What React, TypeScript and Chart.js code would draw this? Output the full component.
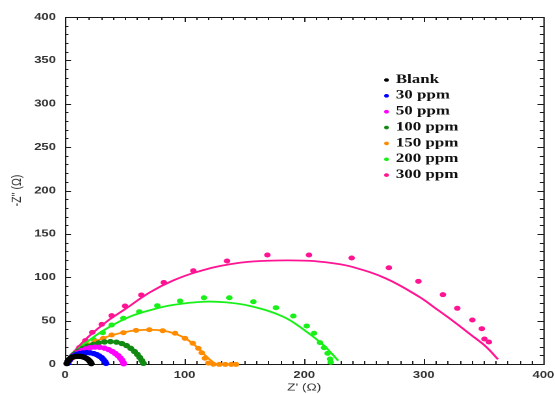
import React, { useEffect, useRef } from 'react';
import { Chart, registerables } from 'chart.js';

Chart.register(...registerables);

// ---------- data ----------
const seriesNames = ['Blank', '30 ppm', '50 ppm', '100 ppm', '150 ppm', '200 ppm', '300 ppm'];
const seriesColors = ['#000000', '#0000ff', '#ff00ff', '#118a11', '#ff8c00', '#19f019', '#ff1493'];

// measured points (Z', -Z'')
const blankX = [1.5, 2.3, 3.3, 4.6, 6.3, 8.2, 10.2, 12.2, 14.2, 16.1, 17.8, 19.3, 20.5, 21.4, 22];
const blankY = [0.5, 3, 5, 6.7, 7.9, 8.6, 8.9, 8.9, 8.5, 7.7, 6.6, 5.2, 3.6, 2, 0.4];
const ppm30X = [2.5, 3.5, 5, 7, 9.5, 12, 15, 18, 21, 24, 26.5, 28.5, 30.5, 32, 33.3, 34.3];
const ppm30Y = [1, 4, 6.8, 9, 10.8, 12, 12.8, 13.1, 12.9, 12, 10.8, 9.3, 7.4, 5.2, 3, 0.7];
const ppm50X = [2.5, 4, 6, 8.5, 11, 14, 17.5, 21, 25, 29, 33, 36.5, 39.5, 42, 44.3, 46.2, 47.6, 48.6, 49];
const ppm50Y = [1.5, 4.5, 7.5, 10.5, 13, 15.5, 17.5, 18.8, 19.5, 19.3, 18.3, 16.6, 14.5, 12.2, 9.7, 7, 4.5, 2, 0.3];
const ppm100X = [2.5, 4, 6, 8.5, 11.5, 15, 19, 23.5, 28, 33, 38, 43, 47.5, 51.5, 55, 58, 60.5, 62.5, 64.2, 65.5];
const ppm100Y = [2, 5.5, 9, 12, 15, 18, 20.5, 22.5, 24.2, 25.4, 25.8, 25.2, 23.6, 21.2, 18, 14.5, 11, 7.5, 4, 0.8];
const ppm150X = [3, 6, 10, 15, 20, 25.5, 32, 39, 48.8, 59.4, 70.5, 81.7, 92, 100.3, 106.8, 111.5, 114.3, 117, 119.8, 124, 129, 134, 139, 143];
const ppm150Y = [3, 7, 12, 17.5, 22, 26, 29.6, 33.4, 36, 38.8, 39.5, 38.4, 35.4, 29.6, 23.9, 18, 13, 6.6, 1, -0.3, -0.5, -0.5, -0.5, -0.5];
const ppm200X = [3, 7, 12, 17, 24, 31.5, 39, 48.8, 62.1, 77.2, 96.2, 116.2, 137.4, 157.5, 176.4, 190.9, 202.1, 208.2, 213.2, 216.6, 219.6, 221.6, 222.2];
const ppm200Y = [3, 9, 16, 22, 28, 36, 45, 52.7, 60.3, 67.2, 72.6, 76.4, 76.4, 71.8, 64.9, 55.3, 43.8, 35.4, 24.6, 18.8, 12.3, 5.8, 2];
const ppm300X = [3, 7, 12, 17, 22.8, 30.7, 39, 50.2, 63.8, 82.6, 107.3, 135.5, 169.2, 204, 239.7, 270.8, 295.5, 316, 328, 340.6, 348.5, 350.7, 354.4];
const ppm300Y = [4, 11, 19, 27, 36.5, 45.7, 55.7, 66.9, 79.5, 94, 107.5, 118.7, 125.6, 125.6, 122.2, 111, 95.3, 79.9, 64.2, 50.7, 40.7, 28.8, 25.4];

// fitted curves
const blankFitX = [1, 3, 6, 10, 14, 17.5, 20, 22, 23];
const blankFitY = [0, 4, 7.2, 8.8, 8.6, 7, 4.5, 1.5, 0];
const ppm30FitX = [1, 4, 8, 13, 18, 23, 27, 30.5, 33, 34.5, 35];
const ppm30FitY = [0, 5, 9.5, 12, 13, 12.5, 10.8, 8, 4.6, 1.7, 0];
const ppm50FitX = [1, 4, 8, 13, 19, 26, 33, 39, 43, 46.5, 48.5, 49.5];
const ppm50FitY = [0, 5, 10, 14.3, 18, 19.5, 18.6, 15.5, 11.7, 7, 3, 0];
const ppm100FitX = [1, 4, 9, 15, 22, 30, 38, 46, 52, 57, 61, 64, 66];
const ppm100FitY = [0, 6, 12.5, 18, 22, 25, 26, 24.3, 21, 16, 10.5, 5, 0];
const ppm150FitX = [1, 4, 10, 18, 28, 40, 55, 70, 82, 92, 100, 107, 113, 118, 122, 126];
const ppm150FitY = [0, 5, 12, 20, 27.5, 33.5, 38, 39.5, 38.5, 35, 30, 23.5, 16, 9, 4, 0];
const ppm200FitX = [1, 4, 10, 18, 28, 40, 55, 71, 90, 115.7, 135, 154.7, 182.5, 202, 216, 223, 228.5];
const ppm200FitY = [0, 7, 16, 25, 35, 45, 55, 62, 68, 71.8, 71, 66.9, 54.5, 37.2, 21.9, 12, 3.8];
const ppm300FitX = [1, 4, 10, 20, 35, 50, 71, 90, 110, 139, 169, 203, 225, 240, 268, 296, 310, 324, 340, 352, 362];
const ppm300FitY = [0, 8, 18, 32, 49, 63, 82.6, 96, 106, 115.3, 119, 119, 116, 112, 98.8, 77.6, 64, 50, 33, 20, 5.4];

const pointXs = [blankX, ppm30X, ppm50X, ppm100X, ppm150X, ppm200X, ppm300X];
const pointYs = [blankY, ppm30Y, ppm50Y, ppm100Y, ppm150Y, ppm200Y, ppm300Y];
const fitXs = [blankFitX, ppm30FitX, ppm50FitX, ppm100FitX, ppm150FitX, ppm200FitX, ppm300FitX];
const fitYs = [blankFitY, ppm30FitY, ppm50FitY, ppm100FitY, ppm150FitY, ppm200FitY, ppm300FitY];

const xMin = 0, xMax = 400, xMajor = 100, xMinor = 10;
const yMin = 0, yMax = 400, yMajor = 50, yMinor = 10;
const xTitle = "Z' (\u03A9)";
const yTitle = "-Z'' (\u03A9)";

// ---------- layout ----------
const SX = 1.3; // horizontal stretch of the reference
const W = 555;
const H = 394;
const CW = Math.round(W / SX);
const PLOT_LEFT = 50;
const PLOT_RIGHT = 418;

const zip = (xs: number[], ys: number[]) => xs.map((x, i) => ({ x, y: ys[i] }));

const frameTicks = {
  id: 'frameTicks',
  beforeDatasetsDraw(chart: any) {
    const { ctx, chartArea: a, scales } = chart;
    const xs = scales.x, ys = scales.y;
    ctx.save();
    ctx.strokeStyle = '#1a1a1a';
    ctx.lineWidth = 1;
    ctx.strokeRect(a.left + 0.5, a.top + 0.5, a.right - a.left, a.bottom - a.top);
    ctx.beginPath();
    for (let v = xMin; v <= xMax; v += xMinor) {
      const p = Math.round(xs.getPixelForValue(v)) + 0.5;
      const len = v % xMajor === 0 ? 5 : 3;
      ctx.moveTo(p, a.bottom); ctx.lineTo(p, a.bottom - len);
      ctx.moveTo(p, a.top); ctx.lineTo(p, a.top + len);
    }
    for (let v = yMin; v <= yMax; v += yMinor) {
      const p = Math.round(ys.getPixelForValue(v)) + 0.5;
      const len = (v % yMajor === 0 ? 6 : 3.5) / SX;
      ctx.moveTo(a.left, p); ctx.lineTo(a.left + len, p);
      ctx.moveTo(a.right, p); ctx.lineTo(a.right - len, p);
    }
    ctx.stroke();
    ctx.restore();
  },
};

const insideLegend = {
  id: 'insideLegend',
  afterDraw(chart: any) {
    const ctx = chart.ctx;
    ctx.save();
    ctx.font = 'bold 13px "Liberation Serif", "Times New Roman", serif';
    ctx.textBaseline = 'middle';
    ctx.textAlign = 'left';
    seriesNames.forEach((name, i) => {
      const y = 79.5 + i * 15.85;
      ctx.fillStyle = seriesColors[i];
      ctx.beginPath();
      ctx.arc(297.3, y + 0.5, 1.8, 0, Math.PI * 2);
      ctx.fill();
      ctx.fillStyle = '#111';
      ctx.fillText(name, 304.5, y);
    });
    ctx.restore();
  },
};

export default function App() {
  const ref = useRef<HTMLCanvasElement | null>(null);

  useEffect(() => {
    if (!ref.current) return;
    const datasets: any[] = [];
    seriesNames.forEach((name, i) => {
      const small = i < 4;
      datasets.push({
        label: name,
        data: zip(pointXs[i], pointYs[i]),
        showLine: false,
        pointRadius: small ? 2.2 : 2,
        pointBorderWidth: 1,
        pointBackgroundColor: seriesColors[i],
        pointBorderColor: seriesColors[i],
        order: i * 2,
        clip: false,
      });
      datasets.push({
        label: name + ' fit',
        data: zip(fitXs[i], fitYs[i]),
        showLine: true,
        borderColor: seriesColors[i],
        borderWidth: 1.8,
        pointRadius: 0,
        tension: 0.4,
        fill: false,
        order: i * 2 + 1,
      });
    });

    const chart = new Chart(ref.current, {
      type: 'scatter',
      data: { datasets },
      plugins: [frameTicks, insideLegend],
      options: {
        animation: false,
        responsive: false,
        devicePixelRatio: 2,
        events: [],
        layout: { padding: { left: 0, right: CW - PLOT_RIGHT, top: 17, bottom: 0 } },
        plugins: {
          legend: { display: false },
          tooltip: { enabled: false },
        },
        scales: {
          x: {
            type: 'linear',
            min: xMin,
            max: xMax,
            grid: { display: false, drawTicks: false },
            border: { display: false },
            ticks: {
              stepSize: xMajor,
              padding: 5,
              color: '#333',
              font: { family: '"Liberation Sans", Arial, sans-serif', size: 10, weight: 'bold' },
            },
            title: {
              display: true,
              text: xTitle,
              color: '#333',
              font: { family: '"Liberation Sans", Arial, sans-serif', size: 10.5 },
              padding: { top: 0, bottom: 0 },
            },
            afterFit(scale: any) {
              scale.height = H - 364;
              scale.paddingLeft = 0;
              scale.paddingRight = 0;
            },
          },
          y: {
            type: 'linear',
            min: yMin,
            max: yMax,
            grid: { display: false, drawTicks: false },
            border: { display: false },
            ticks: {
              stepSize: yMajor,
              padding: 7,
              color: '#333',
              font: { family: '"Liberation Sans", Arial, sans-serif', size: 10, weight: 'bold' },
            },
            title: {
              display: true,
              text: yTitle,
              color: '#333',
              font: { family: '"Liberation Sans", Arial, sans-serif', size: 10.5 },
              padding: { top: 7, bottom: 0 },
            },
            afterFit(scale: any) {
              scale.width = PLOT_LEFT;
              scale.paddingTop = 0;
              scale.paddingBottom = 0;
            },
          },
        },
      } as any,
    });
    return () => chart.destroy();
  }, []);

  return (
    <div
      style={{
        position: 'absolute',
        left: 0,
        top: 0,
        width: W,
        height: H,
        overflow: 'hidden',
        background: '#ffffff',
      }}
    >
      <canvas
        ref={ref}
        width={CW}
        height={H}
        style={{
          width: CW + 'px',
          height: H + 'px',
          display: 'block',
          transform: `scaleX(${SX})`,
          transformOrigin: '0 0',
        }}
      />
    </div>
  );
}
